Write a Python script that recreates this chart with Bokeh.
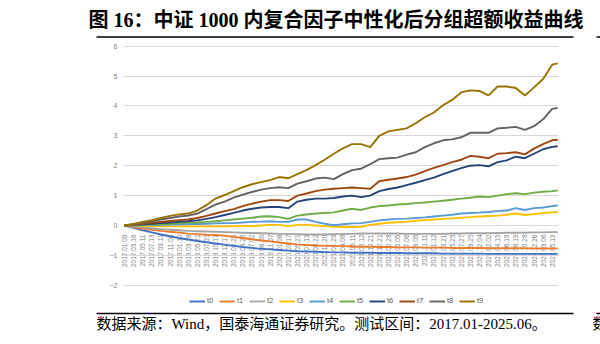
import math
from bokeh.plotting import figure
from bokeh.models import Range1d, FixedTicker, Legend, LegendItem, Label, BoxAnnotation
from bokeh.embed import file_html
from bokeh.resources import INLINE

# ---------------- data ----------------
dates = ["2017.01.09", "2017.03.16", "2017.05.11", "2017.07.13", "2017.09.11", "2017.11.08",
         "2018.01.10", "2018.03.19", "2018.05.21", "2018.07.31", "2018.10.17", "2018.12.17",
         "2019.02.25", "2019.04.26", "2019.07.02", "2019.08.30", "2019.11.07", "2020.01.08",
         "2020.03.17", "2020.05.21", "2020.07.13", "2020.09.22", "2020.11.20", "2021.01.29",
         "2021.04.08", "2021.06.11", "2021.08.12", "2021.10.21", "2021.12.21", "2022.02.28",
         "2022.05.05", "2022.07.06", "2022.09.05", "2022.11.11", "2023.01.12", "2023.03.21",
         "2023.05.25", "2023.07.27", "2023.09.25", "2023.12.04", "2024.02.02", "2024.04.15",
         "2024.06.19", "2024.08.19", "2024.10.28", "2024.12.26", "2025.03.06", "2025.05.13"]
x_pos = list(range(48)) + [47.6]

t0 = [0, -0.08, -0.16, -0.23, -0.3, -0.36, -0.42, -0.47, -0.52, -0.56,
      -0.6, -0.64, -0.68, -0.72, -0.75, -0.78, -0.8, -0.82, -0.84, -0.86,
      -0.87, -0.88, -0.89, -0.9, -0.9, -0.91, -0.91, -0.91, -0.92, -0.92,
      -0.92, -0.93, -0.93, -0.93, -0.93, -0.94, -0.94, -0.94, -0.94, -0.94,
      -0.95, -0.95, -0.95, -0.95, -0.95, -0.95, -0.95, -0.95, -0.95]
t1 = [0, -0.05, -0.1, -0.14, -0.18, -0.21, -0.24, -0.27, -0.29, -0.31,
      -0.32, -0.34, -0.38, -0.42, -0.46, -0.5, -0.53, -0.57, -0.6, -0.63,
      -0.65, -0.67, -0.68, -0.68, -0.69, -0.7, -0.71, -0.71, -0.72, -0.72,
      -0.73, -0.73, -0.73, -0.74, -0.74, -0.74, -0.75, -0.75, -0.75, -0.75,
      -0.76, -0.76, -0.76, -0.76, -0.76, -0.77, -0.77, -0.77, -0.77]
t2 = [0, -0.03, -0.06, -0.09, -0.12, -0.14, -0.16, -0.18, -0.19, -0.2,
      -0.21, -0.22, -0.23, -0.24, -0.25, -0.26, -0.27, -0.28, -0.28, -0.29,
      -0.3, -0.3, -0.3, -0.29, -0.28, -0.28, -0.27, -0.27, -0.27, -0.27,
      -0.27, -0.28, -0.28, -0.28, -0.28, -0.28, -0.27, -0.27, -0.26, -0.26,
      -0.26, -0.25, -0.24, -0.24, -0.24, -0.23, -0.23, -0.22, -0.22]
t3 = [0, -0.01, -0.02, -0.02, -0.03, -0.03, -0.03, -0.03, -0.03, -0.03,
      -0.03, -0.03, -0.02, -0.02, -0.02, 0.0, 0.02, 0.02, -0.02, 0.02,
      0.02, 0.0, -0.02, -0.04, -0.05, -0.05, -0.04, 0.02, 0.06, 0.09,
      0.11, 0.13, 0.16, 0.18, 0.2, 0.22, 0.24, 0.26, 0.28, 0.3,
      0.32, 0.33, 0.36, 0.4, 0.35, 0.38, 0.42, 0.44, 0.45]
t4 = [0, 0.0, 0.01, 0.02, 0.02, 0.03, 0.04, 0.05, 0.05, 0.06,
      0.07, 0.08, 0.08, 0.1, 0.12, 0.13, 0.14, 0.12, 0.12, 0.2,
      0.2, 0.12, 0.06, 0.01, 0.04, 0.07, 0.08, 0.12, 0.17, 0.2,
      0.22, 0.23, 0.25, 0.27, 0.3, 0.33, 0.36, 0.4, 0.42, 0.43,
      0.45, 0.48, 0.5, 0.58, 0.52, 0.58, 0.6, 0.65, 0.67]
t5 = [0, 0.01, 0.02, 0.03, 0.04, 0.06, 0.08, 0.09, 0.1, 0.12,
      0.14, 0.17, 0.2, 0.23, 0.26, 0.3, 0.31, 0.28, 0.22, 0.33,
      0.37, 0.4, 0.42, 0.44, 0.5, 0.56, 0.52, 0.6, 0.65, 0.67,
      0.7, 0.72, 0.75, 0.77, 0.8, 0.83, 0.86, 0.9, 0.93, 0.97,
      0.95, 1.0, 1.05, 1.08, 1.05, 1.1, 1.13, 1.15, 1.17]
t6 = [0, 0.02, 0.04, 0.06, 0.08, 0.1, 0.12, 0.14, 0.17, 0.22,
      0.28, 0.35, 0.42, 0.5, 0.56, 0.6, 0.62, 0.62, 0.58, 0.8,
      0.86, 0.9, 0.9, 0.92, 0.97, 1.0, 0.95, 1.0, 1.15, 1.22,
      1.27, 1.35, 1.43, 1.52, 1.6, 1.72, 1.82, 1.92, 2.0, 2.02,
      1.98, 2.12, 2.18, 2.3, 2.25, 2.4, 2.55, 2.63, 2.65]
t7 = [0, 0.03, 0.06, 0.09, 0.12, 0.15, 0.18, 0.2, 0.25, 0.32,
      0.4, 0.48, 0.55, 0.65, 0.73, 0.8, 0.85, 0.85, 0.82, 1.0,
      1.07, 1.15, 1.2, 1.23, 1.25, 1.27, 1.25, 1.23, 1.48, 1.53,
      1.57, 1.62, 1.7, 1.82, 1.93, 2.02, 2.12, 2.2, 2.33, 2.3,
      2.25, 2.4, 2.42, 2.45, 2.38, 2.57, 2.72, 2.85, 2.87]
t8 = [0, 0.04, 0.09, 0.14, 0.2, 0.25, 0.3, 0.33, 0.4, 0.55,
      0.7, 0.8, 0.93, 1.03, 1.12, 1.2, 1.25, 1.28, 1.25, 1.4,
      1.48, 1.57, 1.6, 1.55, 1.72, 1.85, 1.9, 2.05, 2.22, 2.25,
      2.27, 2.37, 2.45, 2.62, 2.75, 2.85, 2.88, 2.95, 3.1, 3.1,
      3.1, 3.25, 3.27, 3.3, 3.2, 3.32, 3.55, 3.9, 3.93]
t9 = [0, 0.05, 0.12, 0.18, 0.25, 0.32, 0.37, 0.4, 0.5, 0.68,
      0.9, 1.02, 1.15, 1.28, 1.38, 1.45, 1.52, 1.62, 1.58, 1.72,
      1.85, 2.02, 2.2, 2.4, 2.58, 2.72, 2.72, 2.62, 3.0, 3.15,
      3.2, 3.25, 3.42, 3.62, 3.78, 4.02, 4.2, 4.45, 4.52, 4.5,
      4.35, 4.65, 4.65, 4.6, 4.35, 4.62, 4.9, 5.38, 5.42]

series_names = ["t0", "t1", "t2", "t3", "t4", "t5", "t6", "t7", "t8", "t9"]
series_values = [t0, t1, t2, t3, t4, t5, t6, t7, t8, t9]
colors = ["#4472C4", "#ED7D31", "#A5A5A5", "#FFC000", "#5B9BD5",
          "#70AD47", "#264478", "#9E480E", "#636363", "#997300"]
y_ticks = [-2, -1, 0, 1, 2, 3, 4, 5, 6]

title_text = "图 16：中证 1000 内复合因子中性化后分组超额收益曲线"
source_text = "数据来源：Wind，国泰海通证券研究。测试区间：2017.01-2025.06。"

# ---------------- geometry (pixels) ----------------
W, H = 600, 344
PX_X0 = 124.0      # pixel of first category
PX_PER_X = 9.1     # pixels per category step
PX_Y0 = 225.0      # pixel (from top) of value 0
PX_PER_Y = 29.9    # pixels per unit
AREA_LEFT, AREA_RIGHT = 123, 558

x_lo = (0 - PX_X0) / PX_PER_X
x_hi = (W - PX_X0) / PX_PER_X
y_hi = PX_Y0 / PX_PER_Y
y_lo = -(H - PX_Y0) / PX_PER_Y
x_area_lo = (AREA_LEFT - PX_X0) / PX_PER_X
x_area_hi = (AREA_RIGHT - PX_X0) / PX_PER_X

p = figure(width=W, height=H, output_backend="svg", toolbar_location=None,
           x_range=Range1d(x_lo, x_hi), y_range=Range1d(y_lo, y_hi),
           min_border=0, min_border_left=0, min_border_right=0,
           min_border_top=0, min_border_bottom=0)
p.outline_line_color = None
p.background_fill_color = "white"
p.border_fill_color = "white"
p.xgrid.visible = False
p.ygrid.visible = False

# y axis: fixed at the left edge of the plot area; long inward ticks act as gridlines
yax = p.yaxis[0]
yax.fixed_location = x_area_lo
yax.bounds = (-2, 6)
yax.level = "underlay"
yax.ticker = FixedTicker(ticks=y_ticks)
yax.axis_line_color = None
yax.major_tick_line_color = "#d9d9d9"
yax.major_tick_line_width = 1
yax.major_tick_in = AREA_RIGHT - AREA_LEFT
yax.major_tick_out = 0
yax.minor_tick_line_color = None
yax.major_label_standoff = 6
yax.major_label_text_font = "Liberation Sans"
yax.major_label_text_font_size = "7px"
yax.major_label_text_color = "#808080"

# x axis: crosses at value 0
xax = p.xaxis[0]
xax.fixed_location = 0
xax.bounds = (x_area_lo, x_area_hi)
xax.level = "underlay"
xax.ticker = FixedTicker(ticks=list(range(len(dates))))
xax.major_label_overrides = {i: d for i, d in enumerate(dates)}
xax.major_label_orientation = math.pi / 2
xax.axis_line_color = "#d9d9d9"
xax.major_tick_line_color = None
xax.minor_tick_line_color = None
xax.major_label_standoff = 3
xax.major_label_text_font = "Liberation Sans"
xax.major_label_text_font_size = "6.5px"
xax.major_label_text_color = "#7f7f7f"

renderers = []
for name, vals, col in zip(series_names, series_values, colors):
    r = p.line(x_pos, vals, line_color=col, line_width=1.9)
    renderers.append(r)


def sx(x):
    return x


def sy(y):
    return H - y


legend = Legend(items=[LegendItem(label=n, renderers=[r]) for n, r in zip(series_names, renderers)],
                orientation="horizontal", location=(189, sy(301) - 4),
                glyph_width=16, glyph_height=8, label_standoff=2, label_width=8, label_height=8,
                spacing=4, padding=0, margin=0, border_line_color=None,
                background_fill_alpha=0,
                label_text_font="Liberation Sans", label_text_font_size="7.5px",
                label_text_color="#595959")
p.add_layout(legend)

CJK_SERIF = "Liberation Serif, Noto Sans CJK SC"

p.add_layout(Label(x=sx(88), y=sy(19), x_units="screen", y_units="screen", text=title_text,
                   text_font=CJK_SERIF, text_font_style="bold",
                   text_font_size="20px", text_color="black", text_baseline="middle"))
p.add_layout(Label(x=sx(96), y=sy(323.5), x_units="screen", y_units="screen", text=source_text,
                   text_font=CJK_SERIF,
                   text_font_size="15px", text_color="black", text_baseline="middle"))
p.add_layout(Label(x=sx(592), y=sy(323.5), x_units="screen", y_units="screen", text="数",
                   text_font=CJK_SERIF,
                   text_font_size="15px", text_color="black", text_baseline="middle"))

for (l, r, yc) in [(96, 573, 36.5), (596, 606, 36.5), (96, 573, 313), (596, 606, 313)]:
    p.add_layout(BoxAnnotation(left=sx(l), right=sx(r), bottom=sy(yc + 0.75), top=sy(yc - 0.75),
                               left_units="screen", right_units="screen",
                               bottom_units="screen", top_units="screen",
                               fill_color="black", fill_alpha=1, line_color=None))

open("out.html", "w").write(file_html(p, INLINE))
